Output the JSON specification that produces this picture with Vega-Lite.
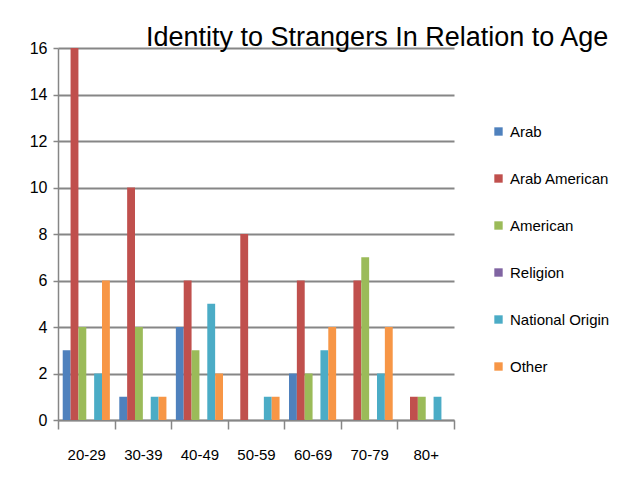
{
  "$schema": "https://vega.github.io/schema/vega-lite/v6.json",
  "width": 396,
  "height": 372,
  "autosize": "none",
  "padding": {"left": 58, "top": 48, "right": 172, "bottom": 66},
  "background": "white",
  "config": {"view": {"stroke": null}},
  "title": {
    "text": "Identity to Strangers In Relation to Age",
    "font": "Liberation Sans",
    "fontSize": 27,
    "fontWeight": "normal",
    "color": "#000000",
    "anchor": "start",
    "frame": "group",
    "dx": 88,
    "dy": 36,
    "baseline": "alphabetic",
    "offset": 3
  },
  "data": {
    "values": [
      {"age": "20-29", "series": "Arab", "value": 3},
      {"age": "20-29", "series": "Arab American", "value": 16},
      {"age": "20-29", "series": "American", "value": 4},
      {"age": "20-29", "series": "Religion", "value": 0},
      {"age": "20-29", "series": "National Origin", "value": 2},
      {"age": "20-29", "series": "Other", "value": 6},
      {"age": "30-39", "series": "Arab", "value": 1},
      {"age": "30-39", "series": "Arab American", "value": 10},
      {"age": "30-39", "series": "American", "value": 4},
      {"age": "30-39", "series": "Religion", "value": 0},
      {"age": "30-39", "series": "National Origin", "value": 1},
      {"age": "30-39", "series": "Other", "value": 1},
      {"age": "40-49", "series": "Arab", "value": 4},
      {"age": "40-49", "series": "Arab American", "value": 6},
      {"age": "40-49", "series": "American", "value": 3},
      {"age": "40-49", "series": "Religion", "value": 0},
      {"age": "40-49", "series": "National Origin", "value": 5},
      {"age": "40-49", "series": "Other", "value": 2},
      {"age": "50-59", "series": "Arab", "value": 0},
      {"age": "50-59", "series": "Arab American", "value": 8},
      {"age": "50-59", "series": "American", "value": 0},
      {"age": "50-59", "series": "Religion", "value": 0},
      {"age": "50-59", "series": "National Origin", "value": 1},
      {"age": "50-59", "series": "Other", "value": 1},
      {"age": "60-69", "series": "Arab", "value": 2},
      {"age": "60-69", "series": "Arab American", "value": 6},
      {"age": "60-69", "series": "American", "value": 2},
      {"age": "60-69", "series": "Religion", "value": 0},
      {"age": "60-69", "series": "National Origin", "value": 3},
      {"age": "60-69", "series": "Other", "value": 4},
      {"age": "70-79", "series": "Arab", "value": 0},
      {"age": "70-79", "series": "Arab American", "value": 6},
      {"age": "70-79", "series": "American", "value": 7},
      {"age": "70-79", "series": "Religion", "value": 0},
      {"age": "70-79", "series": "National Origin", "value": 2},
      {"age": "70-79", "series": "Other", "value": 4},
      {"age": "80+", "series": "Arab", "value": 0},
      {"age": "80+", "series": "Arab American", "value": 1},
      {"age": "80+", "series": "American", "value": 1},
      {"age": "80+", "series": "Religion", "value": 0},
      {"age": "80+", "series": "National Origin", "value": 1},
      {"age": "80+", "series": "Other", "value": 0}
    ]
  },
  "mark": {"type": "bar"},
  "encoding": {
    "x": {
      "field": "age",
      "type": "nominal",
      "sort": null,
      "title": null,
      "scale": {"paddingInner": 0, "paddingOuter": 0},
      "axis": {
        "labelAngle": 0,
        "labelFont": "Liberation Sans",
        "labelFontSize": 15,
        "labelColor": "#000000",
        "labelPadding": 18,
        "tickBand": "extent",
        "tickSize": 9,
        "tickColor": "#868686",
        "tickWidth": 1.5,
        "domainColor": "#868686",
        "domainWidth": 1.5
      }
    },
    "xOffset": {
      "field": "series",
      "type": "nominal",
      "sort": ["Arab", "Arab American", "American", "Religion", "National Origin", "Other"],
      "scale": {"paddingInner": 0, "paddingOuter": 0.6}
    },
    "y": {
      "field": "value",
      "type": "quantitative",
      "title": null,
      "scale": {"domain": [0, 16], "nice": false},
      "axis": {
        "values": [0, 2, 4, 6, 8, 10, 12, 14, 16],
        "labelFont": "Liberation Sans",
        "labelFontSize": 16,
        "labelColor": "#000000",
        "labelPadding": 6,
        "tickSize": 5,
        "tickColor": "#868686",
        "tickWidth": 1.5,
        "domainColor": "#868686",
        "domainWidth": 1.5,
        "grid": true,
        "gridColor": "#868686",
        "gridWidth": 2
      }
    },
    "color": {
      "field": "series",
      "type": "nominal",
      "sort": ["Arab", "Arab American", "American", "Religion", "National Origin", "Other"],
      "scale": {
        "domain": ["Arab", "Arab American", "American", "Religion", "National Origin", "Other"],
        "range": ["#4F81BD", "#C0504D", "#9BBB59", "#8064A2", "#4BACC6", "#F79646"]
      },
      "legend": {
        "title": null,
        "orient": "none",
        "legendX": 433,
        "legendY": 76,
        "symbolType": "square",
        "symbolSize": 70,
        "symbolStrokeWidth": 0,
        "labelFont": "Liberation Sans",
        "labelFontSize": 15,
        "labelColor": "#000000",
        "labelOffset": 4,
        "rowPadding": 31
      }
    }
  }
}
